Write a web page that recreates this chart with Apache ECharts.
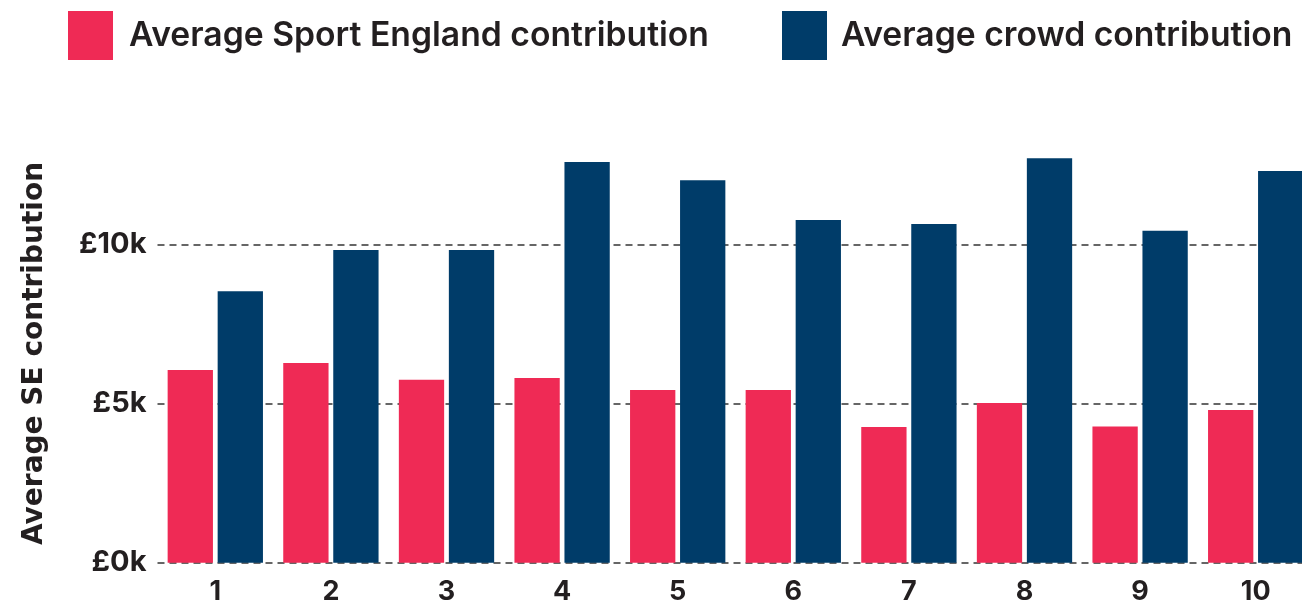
<!DOCTYPE html>
<html>
<head>
<meta charset="utf-8">
<script src="https://cdn.jsdelivr.net/npm/echarts@6/dist/echarts.min.js"></script>
<style>
  html, body { margin: 0; padding: 0; background: #ffffff; }
  #chart { width: 1302px; height: 605px; }
</style>
</head>
<body>
<div id="chart"></div>
<script>
// Funding rounds along the x axis
const categories = ['1', '2', '3', '4', '5', '6', '7', '8', '9', '10'];
// Average Sport England contribution per round (£)
const seContribution = [6060, 6280, 5750, 5810, 5430, 5430, 4270, 5020, 4280, 4800];
// Average crowd contribution per round (£)
const crowdContribution = [8540, 9830, 9830, 12600, 12030, 10780, 10650, 12720, 10440, 12320];
const seriesNames = ['Average Sport England contribution', 'Average crowd contribution'];

const PINK = '#EF2A55';
const NAVY = '#003C69';
const TEXT = '#231F20';
const FONT = 'Inter, "Open Sans", sans-serif';

const chart = echarts.init(document.getElementById('chart'), null, { renderer: 'canvas' });

const legendText = { color: TEXT, fontFamily: FONT, fontWeight: 600, fontSize: 33.7 };

chart.setOption({
  animation: false,
  legend: [
    {
      data: [seriesNames[0]], left: 63, top: 6,
      itemWidth: 45, itemHeight: 49, itemGap: 0,
      icon: 'rect', textStyle: Object.assign({ padding: [0, 0, 0, 11] }, legendText)
    },
    {
      data: [seriesNames[1]], left: 777, top: 6,
      itemWidth: 45, itemHeight: 49, itemGap: 0,
      icon: 'rect', textStyle: Object.assign({ padding: [0, 0, 0, 9] }, legendText)
    }
  ],
  // the last round's crowd bar runs off the right edge of the canvas
  grid: { left: 157.5, right: -11.5, top: 149.3, bottom: 42.3, containLabel: false, outerBoundsMode: 'none' },
  xAxis: {
    type: 'category',
    data: categories,
    axisLine: { show: false },
    axisTick: { show: false },
    axisLabel: { color: TEXT, fontFamily: FONT, fontWeight: 700, fontSize: 27, margin: 16 }
  },
  yAxis: {
    type: 'value',
    min: 0, max: 13000, interval: 5000,
    name: 'Average SE contribution',
    nameLocation: 'middle',
    nameGap: 109,
    nameTextStyle: {
      color: TEXT, fontFamily: '"DejaVu Sans", sans-serif', fontWeight: 'bold', fontSize: 28,
      padding: [0, 0, 0, 5]
    },
    axisLine: { show: false },
    axisTick: { show: false },
    axisLabel: {
      color: TEXT, fontFamily: FONT, fontWeight: 700, fontSize: 29, margin: 11,
      showMaxLabel: false,
      formatter: v => (v % 5000 === 0 ? '£' + (v / 1000) + 'k' : '')
    },
    splitLine: {
      show: true, showMaxLine: false,
      lineStyle: { color: '#666666', width: 2, type: [7, 5] }
    }
  },
  series: [
    {
      name: seriesNames[0], type: 'bar', data: seContribution,
      barWidth: 45.3, barGap: '10.4%',
      itemStyle: { color: PINK }
    },
    {
      name: seriesNames[1], type: 'bar', data: crowdContribution,
      barWidth: 45.3,
      itemStyle: { color: NAVY }
    }
  ]
});
</script>
</body>
</html>
